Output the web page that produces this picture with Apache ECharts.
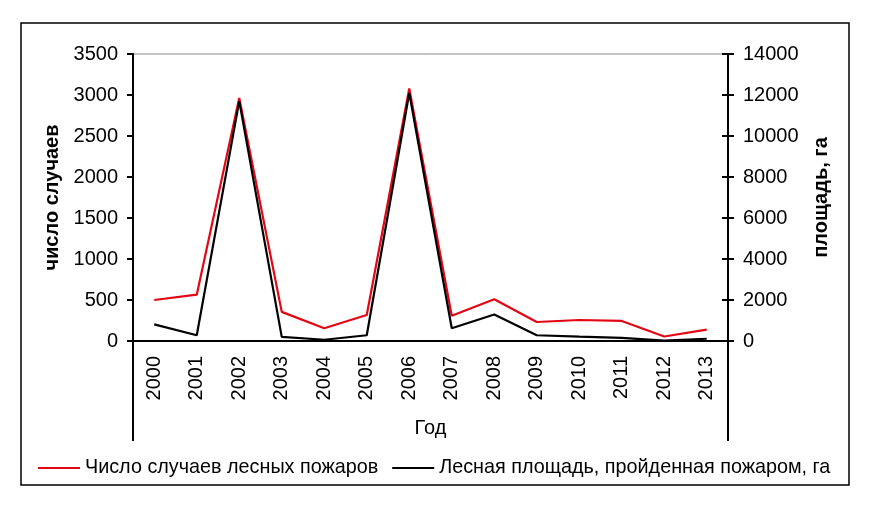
<!DOCTYPE html>
<html>
<head>
<meta charset="utf-8">
<script src="https://cdn.jsdelivr.net/npm/echarts@6/dist/echarts.min.js"></script>
<style>
  html, body { margin: 0; padding: 0; background: #fff; }
  #chart { width: 876px; height: 514px; }
</style>
</head>
<body>
<div id="chart"></div>
<script>
// data
var years = ['2000', '2001', '2002', '2003', '2004', '2005', '2006',
             '2007', '2008', '2009', '2010', '2011', '2012', '2013'];
var fireCount = [500, 565, 2965, 355, 155, 317, 3080, 308, 510, 232, 256, 245, 55, 138];
var fireArea = [810, 280, 11700, 200, 60, 280, 12100, 620, 1290, 280, 210, 150, 20, 110];
var countTicks = [0, 3500, 500];
var areaTicks = [0, 14000, 2000];

var FONT = '"Liberation Sans", Arial, sans-serif';

function plain(v) { return String(v); }

var myChart = echarts.init(document.getElementById('chart'));

var option = {
  animation: false,
  textStyle: { fontFamily: FONT },
  grid: {
    left: 133,
    right: 148,
    top: 54,
    bottom: 173,
    show: true,
    borderColor: '#888',
    borderWidth: 1
  },
  legend: {
    left: 33,
    top: 453,
    icon: 'rect',
    itemWidth: 42,
    itemHeight: 2,
    itemGap: 14,
    textStyle: { fontSize: 19.8, color: '#000', fontFamily: FONT },
    data: ['Число случаев лесных пожаров', 'Лесная площадь, пройденная пожаром, га']
  },
  xAxis: [{
    type: 'category',
    data: years,
    boundaryGap: true,
    name: 'Год',
    nameLocation: 'middle',
    nameGap: 77,
    nameTextStyle: { fontSize: 20, color: '#000' },
    axisLine: { lineStyle: { color: '#000', width: 2 } },
    axisTick: { interval: 0, length: 57, lineStyle: { color: '#000', width: 2 } },
    axisLabel: { interval: 0, rotate: 90, margin: 15, fontSize: 20, color: '#000' },
    splitLine: { show: false }
  }],
  yAxis: [{
    type: 'value',
    position: 'left',
    min: countTicks[0],
    max: countTicks[1],
    interval: countTicks[2],
    name: 'число случаев',
    nameLocation: 'middle',
    nameGap: 58,
    nameTextStyle: { fontSize: 20, fontWeight: 'bold', color: '#000' },
    axisLine: { show: true, lineStyle: { color: '#000', width: 2 } },
    axisTick: { show: true, length: 6, lineStyle: { color: '#000', width: 2 } },
    axisLabel: { margin: 15, fontSize: 20, color: '#000', formatter: plain },
    splitLine: { show: false }
  }, {
    type: 'value',
    position: 'right',
    min: areaTicks[0],
    max: areaTicks[1],
    interval: areaTicks[2],
    name: 'площадь, га',
    nameLocation: 'middle',
    nameGap: 83,
    nameTextStyle: { fontSize: 20, fontWeight: 'bold', color: '#000' },
    axisLine: { show: true, lineStyle: { color: '#000', width: 2 } },
    axisTick: { show: true, length: 6, lineStyle: { color: '#000', width: 2 } },
    axisLabel: { margin: 15, fontSize: 20, color: '#000', formatter: plain },
    splitLine: { show: false }
  }, {
    // inner half of the crossing ticks on the right axis
    type: 'value',
    position: 'right',
    min: areaTicks[0],
    max: areaTicks[1],
    interval: areaTicks[2],
    axisLine: { show: false },
    axisTick: { show: true, inside: true, length: 6, lineStyle: { color: '#000', width: 2 } },
    axisLabel: { show: false },
    splitLine: { show: false }
  }],
  graphic: [
    { type: 'rect', shape: { x: 21, y: 23, width: 828, height: 462 },
      style: { fill: 'none', stroke: '#000', lineWidth: 1.5 }, z: 0 },
    { type: 'line', shape: { x1: 133, y1: 341, x2: 133, y2: 441 },
      style: { stroke: '#000', lineWidth: 2 } },
    { type: 'line', shape: { x1: 728, y1: 341, x2: 728, y2: 441 },
      style: { stroke: '#000', lineWidth: 2 } }
  ],
  series: [{
    name: 'Число случаев лесных пожаров',
    type: 'line',
    yAxisIndex: 0,
    data: fireCount,
    symbol: 'none',
    z: 3,
    lineStyle: { color: '#e30613', width: 2.2 },
    itemStyle: { color: '#e30613' }
  }, {
    name: 'Лесная площадь, пройденная пожаром, га',
    type: 'line',
    yAxisIndex: 1,
    data: fireArea,
    symbol: 'none',
    z: 4,
    lineStyle: { color: '#000', width: 2.2 },
    itemStyle: { color: '#000' }
  }]
};

myChart.setOption(option);
</script>
</body>
</html>
